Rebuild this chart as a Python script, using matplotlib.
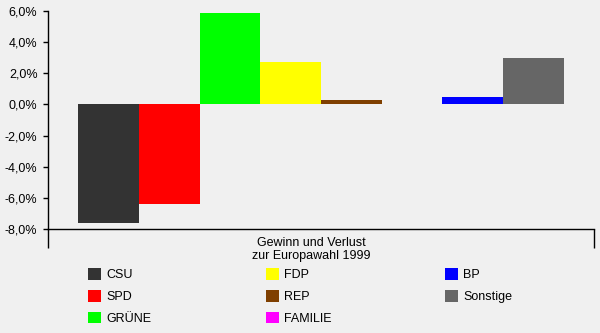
import matplotlib
matplotlib.use("Agg")
import matplotlib.pyplot as plt
from matplotlib.patches import Patch
from matplotlib.ticker import FuncFormatter
import matplotlib.transforms as mtransforms

parties = ["CSU", "SPD", "GRÜNE", "FDP", "REP", "FAMILIE", "BP", "Sonstige"]
changes = [-7.6, -6.4, 5.9, 2.7, 0.3, 0.0, 0.5, 3.0]
colors = ["#333333", "#ff0000", "#00ff00", "#ffff00", "#7f3f00", "#ff00ff", "#0000ff", "#666666"]
category = "Gewinn und Verlust\nzur Europawahl 1999"
yticks = [-8, -6, -4, -2, 0, 2, 4, 6]

plt.rcParams['font.family'] = ['Liberation Sans', 'DejaVu Sans']
plt.rcParams['font.size'] = 9

W, H = 600, 333
fig = plt.figure(figsize=(W / 100, H / 100), dpi=100, facecolor="#f0f0f0")
ax = fig.add_axes([48 / W, 1 - 229 / H, (594 - 48) / W, (229 - 11) / H])
ax.set_facecolor("#f0f0f0")

xs = list(range(len(parties)))
ax.bar(xs, changes, width=1.0, color=colors, linewidth=0)

ax.set_xlim(-1, len(parties))
ax.set_ylim(-8, 6)
ax.set_yticks(yticks)
ax.yaxis.set_major_formatter(FuncFormatter(lambda v, p: f"{v:.1f}%".replace(".", ",")))
ax.tick_params(axis="y", length=3.6, width=1, pad=4, labelsize=9, colors="black")
ax.set_xticks([-1, len(parties)])
ax.set_xticklabels([])
ax.tick_params(axis="x", length=13.5, width=1, direction="out")

for s in ["top", "right"]:
    ax.spines[s].set_visible(False)
for s in ["left", "bottom"]:
    ax.spines[s].set_linewidth(1)

trans = mtransforms.blended_transform_factory(ax.transAxes, fig.transFigure)
ax.text((311 - 48) / 546, 1 - 237 / H, category, transform=trans, ha="center", va="top",
        fontsize=9, linespacing=1.1)

# legend: 3 columns, column-wise filling
col_x = [88, 266, 445]
per_col = 3
for c in range(3):
    idx = list(range(c * per_col, min((c + 1) * per_col, len(parties))))
    handles = [Patch(facecolor=colors[i], edgecolor="none") for i in idx]
    labels = [parties[i] for i in idx]
    fig.legend(handles, labels, loc="upper left",
               bbox_to_anchor=(col_x[c] / W, 1 - 268 / H),
               frameon=False, handlelength=1.05, handleheight=1.05,
               handletextpad=0.4, labelspacing=0.71, fontsize=9,
               borderpad=0, borderaxespad=0)

fig.savefig("out.png", dpi=100, facecolor=fig.get_facecolor())
